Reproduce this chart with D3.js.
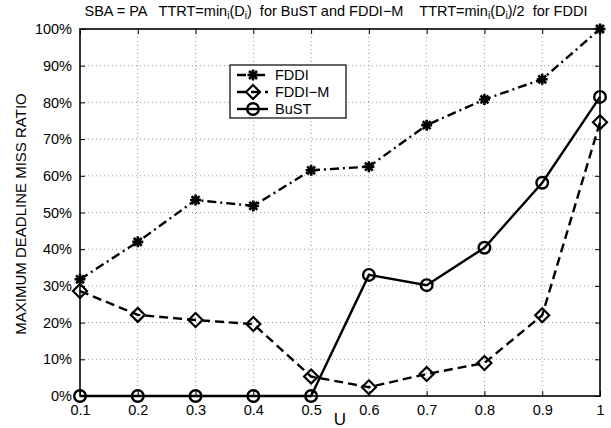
<!DOCTYPE html>
<html><head><meta charset="utf-8">
<script src="https://cdn.jsdelivr.net/npm/d3@7"></script>
<style>body{margin:0;background:#fff}svg{display:block}text{font-family:"Liberation Sans",Arial,sans-serif}</style>
</head><body><svg id="c" width="611" height="428"></svg>
<script>
const uValues = [0.1,0.2,0.3,0.4,0.5,0.6,0.7,0.8,0.9,1.0];
const fddi   = [31.8,42.0,53.4,51.8,61.5,62.5,73.8,80.8,86.3,100];
const fddiM  = [28.6,22.1,20.7,19.6,5.3,2.4,6.0,9.0,22.0,74.6];
const bust   = [0,0,0,0,0,33.0,30.2,40.4,58.1,81.5];
const xTicks = [0.1,0.2,0.3,0.4,0.5,0.6,0.7,0.8,0.9,1];
const yTicks = [0,10,20,30,40,50,60,70,80,90,100];
const seriesNames = ["FDDI","FDDI\u2212M","BuST"];

const svg = d3.select("#c");
const L=80,R=600,T=29,B=396;
const x = d3.scaleLinear().domain([0.1,1]).range([L,R]);
const y = d3.scaleLinear().domain([0,100]).range([B,T]);

// grid
const g = svg.append("g");
g.selectAll(".gx").data(xTicks.slice(1,-1)).join("line")
 .attr("x1",d=>x(d)).attr("x2",d=>x(d)).attr("y1",T).attr("y2",B)
 .attr("stroke","#999").attr("stroke-width",1).attr("stroke-dasharray","1,3");
g.selectAll(".gy").data(yTicks.slice(1,-1)).join("line")
 .attr("y1",d=>y(d)).attr("y2",d=>y(d)).attr("x1",L).attr("x2",R)
 .attr("stroke","#999").attr("stroke-width",1).attr("stroke-dasharray","1,3");

// axes
const xAxis = d3.axisBottom(x).tickValues(xTicks).tickSize(-5).tickPadding(9).tickFormat(d=>d===1?"1":d3.format(".1f")(d));
const gx = svg.append("g").attr("transform",`translate(0,${B})`).call(xAxis);
gx.select(".domain").remove();
gx.selectAll("line").attr("stroke","#000");
gx.selectAll("text").attr("font-size",14.5).attr("fill","#000");
const xTop = d3.axisTop(x).tickValues(xTicks).tickSize(-5).tickFormat("");
const gxt = svg.append("g").attr("transform",`translate(0,${T})`).call(xTop);
gxt.select(".domain").remove(); gxt.selectAll("line").attr("stroke","#000");

const yAxis = d3.axisLeft(y).tickValues(yTicks).tickSize(-5).tickPadding(8).tickFormat(d=>d+"%");
const gy = svg.append("g").attr("transform",`translate(${L},0)`).call(yAxis);
gy.select(".domain").remove();
gy.selectAll("line").attr("stroke","#000");
gy.selectAll("text").attr("font-size",14.5).attr("fill","#000");
const yRight = d3.axisRight(y).tickValues(yTicks).tickSize(-5).tickFormat("");
const gyr = svg.append("g").attr("transform",`translate(${R},0)`).call(yRight);
gyr.select(".domain").remove(); gyr.selectAll("line").attr("stroke","#000");

svg.append("rect").attr("x",L).attr("y",T).attr("width",R-L).attr("height",B-T)
 .attr("fill","none").attr("stroke","#000").attr("stroke-width",1.6);

// series
const line = d3.line().x((d,i)=>x(uValues[i])).y(d=>y(d));
const styles = [
 {data:fddi, dash:"9,4,2,4", marker:"star"},
 {data:fddiM, dash:"9,5", marker:"diamond"},
 {data:bust, dash:null, marker:"circle"}
];
function drawMarker(sel, type, cx, cy){
  if(type==="star"){
    const s=5.5, d=s*0.72;
    const p=`M${cx-s},${cy}L${cx+s},${cy}M${cx},${cy-s}L${cx},${cy+s}M${cx-d},${cy-d}L${cx+d},${cy+d}M${cx-d},${cy+d}L${cx+d},${cy-d}`;
    sel.append("path").attr("d",p).attr("stroke","#000").attr("stroke-width",2.6).attr("fill","none");
  } else if(type==="diamond"){
    const s=7;
    sel.append("path").attr("d",`M${cx},${cy-s}L${cx+s},${cy}L${cx},${cy+s}L${cx-s},${cy}Z`)
      .attr("stroke","#000").attr("stroke-width",2.2).attr("fill","none");
  } else {
    sel.append("circle").attr("cx",cx).attr("cy",cy).attr("r",5.8)
      .attr("stroke","#000").attr("stroke-width",2.4).attr("fill","none");
  }
}
styles.forEach(s=>{
  const p = svg.append("path").datum(s.data).attr("d",line).attr("fill","none")
    .attr("stroke","#000").attr("stroke-width",2.4);
  if(s.dash) p.attr("stroke-dasharray",s.dash);
  const mg = svg.append("g");
  s.data.forEach((v,i)=>drawMarker(mg,s.marker,x(uValues[i]),y(v)));
});

// legend
const lg = svg.append("g");
lg.append("rect").attr("x",230).attr("y",65).attr("width",116).attr("height",53)
  .attr("fill","#fff").attr("stroke","#000").attr("stroke-width",1.2);
const ly=[75,92,109];
styles.forEach((s,i)=>{
  const p = lg.append("line").attr("x1",237).attr("x2",268).attr("y1",ly[i]).attr("y2",ly[i])
    .attr("stroke","#000").attr("stroke-width",2.4);
  if(s.dash) p.attr("stroke-dasharray",s.dash);
  drawMarker(lg,s.marker,253,ly[i]);
  lg.append("text").attr("x",275).attr("y",ly[i]+5).attr("font-size",14.5).text(seriesNames[i]);
});

// labels
svg.append("text").attr("x",340).attr("y",425).attr("text-anchor","middle").attr("font-size",17).text("U");
svg.append("text").attr("transform","translate(26,214) rotate(-90)").attr("text-anchor","middle")
  .attr("font-size",15).text("MAXIMUM DEADLINE MISS RATIO");
const t = svg.append("text").attr("x",336).attr("y",16).attr("text-anchor","middle").attr("font-size",14.5)
  .attr("xml:space","preserve").style("white-space","pre");
t.append("tspan").text("SBA = PA   TTRT=min");
t.append("tspan").attr("font-size",10).attr("dy",3).text("i");
t.append("tspan").attr("dy",-3).text("(D");
t.append("tspan").attr("font-size",10).attr("dy",3).text("i");
t.append("tspan").attr("dy",-3).text(")  for BuST and FDDI\u2212M    TTRT=min");
t.append("tspan").attr("font-size",10).attr("dy",3).text("i");
t.append("tspan").attr("dy",-3).text("(D");
t.append("tspan").attr("font-size",10).attr("dy",3).text("i");
t.append("tspan").attr("dy",-3).text(")/2  for FDDI");
</script></body></html>
